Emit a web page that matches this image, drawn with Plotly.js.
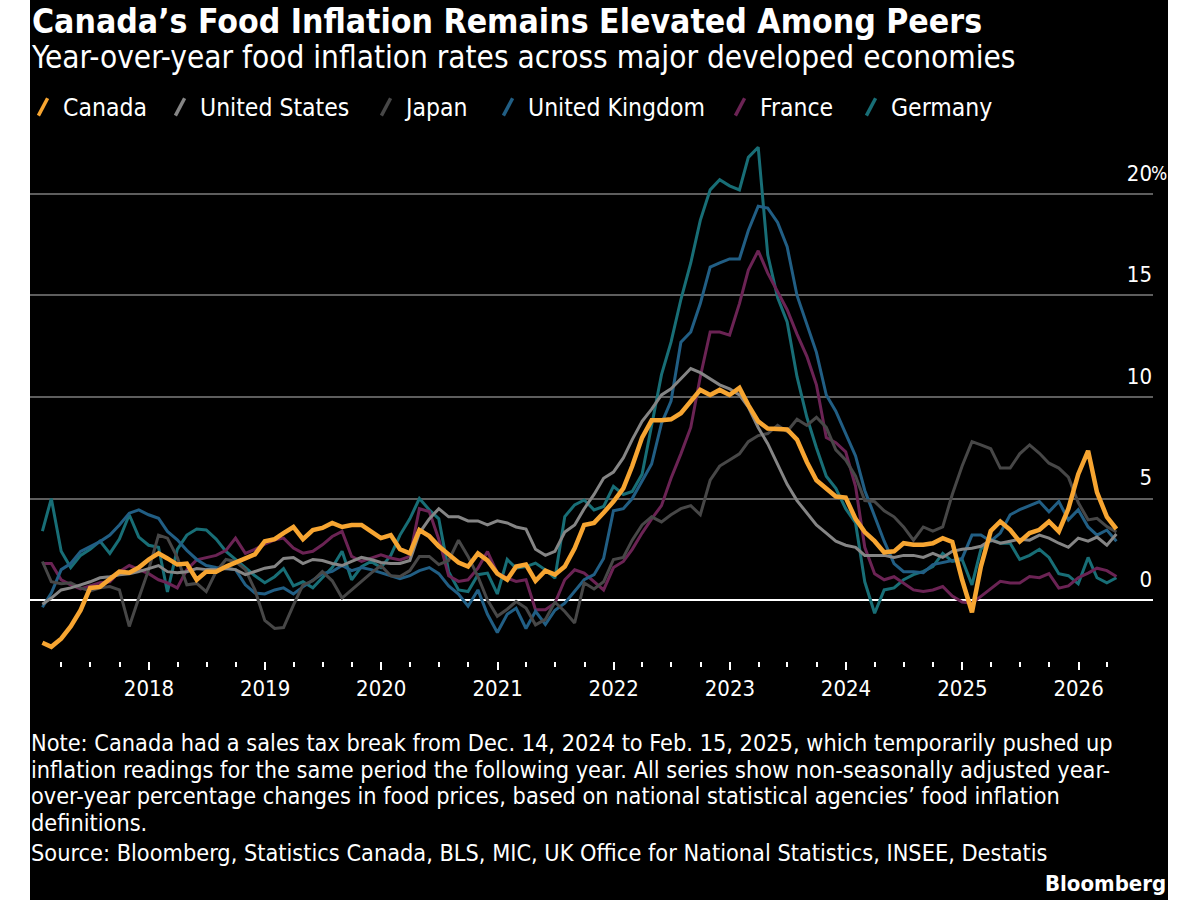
<!DOCTYPE html>
<html>
<head>
<meta charset="utf-8">
<script src="https://cdn.plot.ly/plotly-3.0.1.min.js"></script>
<style>
  html, body { margin:0; padding:0; background:#ffffff; }
  #wrap { position:absolute; left:30px; top:0; width:1138px; height:900px; background:#000; }
  #chart { width:1138px; height:900px; }
</style>
</head>
<body>
<div id="wrap"><div id="chart"></div></div>
<script>
// ---------------- DATA (monthly, Jan 2017 – Apr 2026, y/y %) ----------------
const seriesNames = ['Canada', 'United States', 'Japan', 'United Kingdom', 'France', 'Germany'];

const canada = [
  -2.1, -2.3, -1.9, -1.3, -0.5, 0.6, 0.65, 1.0, 1.4, 1.35, 1.6, 2.0,
  2.3, 2.05, 1.75, 1.8, 1.0, 1.4, 1.4, 1.65, 1.85, 2.0, 2.25, 2.9,
  3.0, 3.3, 3.6, 3.0, 3.45, 3.55, 3.8, 3.6, 3.7, 3.7, 3.4, 3.05,
  3.2, 2.5, 2.3, 3.45, 3.15, 2.65, 2.25, 1.85, 1.65, 2.3, 1.95, 1.3,
  1.0, 1.65, 1.75, 0.95, 1.45, 1.25, 1.65, 2.55, 3.7, 3.8, 4.3, 4.85,
  5.5, 6.6, 8.0, 8.85, 8.85, 8.9, 9.2, 9.8, 10.35, 10.1, 10.35, 10.1,
  10.45, 9.6, 8.8, 8.45, 8.4, 8.4, 7.9, 6.8, 5.9, 5.5, 5.1, 5.05,
  4.0, 3.35, 2.9, 2.35, 2.4, 2.8, 2.72, 2.72, 2.8, 3.05, 2.86, 1.0,
  -0.6, 1.65, 3.4, 3.87, 3.46, 2.88, 3.3, 3.46, 3.87, 3.38, 4.5, 6.2,
  7.35, 5.3, 4.1, 3.5
];
const unitedStates = [
  -0.2, 0.1, 0.5, 0.6, 0.75, 0.9, 1.1, 1.15, 1.25, 1.3, 1.4, 1.55,
  1.7, 1.4, 1.35, 1.4, 1.55, 1.5, 1.5, 1.55, 1.5, 1.25, 1.4, 1.57,
  1.65, 2.05, 2.1, 1.8, 2.0, 1.95, 1.8, 1.7, 1.9, 2.1, 2.0, 1.85,
  1.8, 1.8, 1.95, 3.3, 4.0, 4.5, 4.1, 4.1, 3.9, 3.9, 3.7, 3.9,
  3.8, 3.6, 3.5, 2.5, 2.2, 2.4, 3.35, 3.7, 4.5, 5.2, 6.0, 6.3,
  7.0, 7.9, 8.8, 9.4, 10.1, 10.4, 10.9, 11.4, 11.2, 10.9, 10.6, 10.4,
  10.1, 9.5, 8.5, 7.7, 6.7, 5.7, 4.9, 4.3, 3.7, 3.3, 2.9, 2.7,
  2.6, 2.2, 2.2, 2.2, 2.1, 2.2, 2.2, 2.1, 2.3, 2.1, 2.4, 2.5,
  2.55, 2.65, 2.95, 2.8, 2.9, 3.0, 2.95, 3.2, 3.05, 2.8, 2.6, 3.05,
  2.9, 3.1, 2.7, 3.25
];
const japan = [
  1.9, 0.9, 0.8, 0.85, 0.6, 0.45, 0.6, 0.67, 0.5, -1.3, 0.1, 1.5,
  3.2, 3.05, 2.1, 0.75, 0.82, 0.42, 1.4, 2.0, 1.9, 1.5, 0.5, -1.0,
  -1.4, -1.35, -0.25, 0.75, 0.95, 1.4, 0.95, 0.1, 0.5, 0.92, 1.33, 1.7,
  1.2, 1.16, 1.45, 2.15, 2.15, 1.75, 1.95, 2.95, 2.15, 1.16, 0.0, -0.8,
  -0.45, -0.07, -0.39, -1.22, -0.95, -0.1, -0.56, -1.13, 0.85, 0.55, 0.9, 2.0,
  2.1, 2.95, 3.7, 4.1, 3.85, 4.2, 4.5, 4.65, 4.2, 5.9, 6.6, 6.9,
  7.2, 7.8, 8.1, 8.2, 8.6, 8.3, 8.9, 8.6, 9.0, 8.5, 7.4, 6.9,
  6.1, 4.9, 4.85, 4.4, 4.1, 3.6, 2.95, 3.6, 3.4, 3.6, 5.2, 6.6,
  7.8, 7.64, 7.45, 6.5, 6.5, 7.2, 7.64, 7.23, 6.74, 6.5, 6.05, 4.8,
  3.95, 4.03, 3.62, 3.35
];
const unitedKingdom = [
  -0.35, 0.34, 1.5, 1.8, 2.4, 2.65, 2.88, 3.2, 3.7, 4.28, 4.44, 4.2,
  4.03, 3.38, 2.97, 2.45, 2.0, 1.7, 1.6, 1.55, 1.5, 0.75, 0.35, 0.3,
  0.5, 0.6, 0.3, 0.65, 1.0, 1.3, 1.41, 1.7, 1.45, 1.6, 1.5, 1.35,
  1.2, 1.05, 1.2, 1.45, 1.6, 1.3, 0.7, 0.3, -0.3, 0.5, -0.7, -1.6,
  -0.7, -0.4, -1.4, -0.55, -1.2, -0.5, -0.15, 0.45, 1.0, 1.25, 2.05, 4.4,
  4.5, 5.0, 5.9, 6.7, 8.7, 9.8, 12.7, 13.2, 14.6, 16.4, 16.6, 16.8,
  16.8, 18.2, 19.4, 19.3, 18.6, 17.4, 15.0, 13.6, 12.2, 10.1, 9.3, 8.2,
  7.1, 5.4, 4.1, 2.9, 1.8, 1.4, 1.4, 1.35, 1.75, 1.85, 1.95, 2.05,
  3.2, 3.2, 2.9, 3.3, 4.2, 4.45, 4.65, 4.85, 4.35, 4.85, 3.95, 4.45,
  3.6, 3.2, 3.45, 2.9
];
const france = [
  1.8, 1.8, 1.0, 0.75, 0.55, 0.7, 0.85, 0.9, 1.4, 1.7, 1.5, 1.3,
  1.0, 0.85, 0.6, 1.5, 1.98, 2.07, 2.2, 2.45, 3.05, 2.3, 2.5, 2.75,
  2.97, 3.05, 2.56, 2.31, 2.4, 2.72, 3.13, 3.38, 2.15, 1.9, 2.07, 2.23,
  2.07, 1.98, 2.15, 4.5, 4.36, 3.0, 1.2, 0.92, 1.0, 1.57, 2.39, 1.33,
  1.08, 0.92, 1.0, -0.48, -0.48, -0.15, 1.0, 1.49, 1.33, 0.92, 0.5, 1.6,
  1.9, 2.5, 3.3, 4.0, 4.65, 6.0, 7.2, 8.5, 11.0, 13.2, 13.2, 13.05,
  14.6, 16.25, 17.2, 16.1, 15.2, 14.3, 13.1, 12.0, 10.6, 8.0, 7.75, 7.3,
  5.6, 2.6, 1.3, 1.0, 1.15, 0.84, 0.5, 0.42, 0.5, 0.67, 0.2, -0.1,
  -0.15, 0.18, 0.55, 0.92, 0.84, 0.84, 1.16, 1.1, 1.3, 0.59, 0.7, 1.1,
  1.33, 1.57, 1.45, 1.16
];
const germany = [
  3.4, 5.0, 2.4, 1.6, 2.2, 2.5, 2.9, 2.3, 3.0, 4.2, 3.1, 2.7,
  2.6, 0.4, 2.5, 3.2, 3.5, 3.45, 3.0, 2.4, 2.0, 1.6, 1.2, 0.85,
  1.15, 1.55, 0.7, 0.9, 0.6, 1.1, 1.6, 2.4, 1.0, 1.65, 1.9, 1.6,
  2.2, 3.2, 4.0, 5.0, 4.45, 4.0, 1.4, 0.5, 0.42, 1.25, 1.33, 0.3,
  2.0, 1.57, 1.65, 1.82, 1.49, 1.08, 4.11, 4.69, 4.93, 4.44, 4.61, 5.6,
  5.2, 5.35, 6.2, 8.6, 11.1, 12.7, 14.8, 16.6, 18.7, 20.2, 20.7, 20.4,
  20.2, 21.8, 22.3, 17.0, 14.9, 13.7, 11.0, 9.0, 7.5, 6.1, 5.5, 4.5,
  3.8, 0.9, -0.65, 0.5, 0.6, 1.0, 1.25, 1.41, 1.65, 2.3, 1.9, 2.0,
  0.75, 2.5, 3.0, 2.8, 2.8, 2.0, 2.2, 2.5, 2.1, 1.3, 1.2, 0.8,
  2.1, 1.1, 0.85, 1.1
];

const yearTickVals = ['2018-01-01','2019-01-01','2020-01-01','2021-01-01','2022-01-01','2023-01-01','2024-01-01','2025-01-01','2026-01-01'];
const yearTickText = ['2018','2019','2020','2021','2022','2023','2024','2025','2026'];
const yTickVals = [0, 5, 10, 15, 20];
const yTickText = ['0', '5', '10', '15', '20'];

const titleText = 'Canada’s Food Inflation Remains Elevated Among Peers';
const subtitleText = 'Year-over-year food inflation rates across major developed economies';
const noteLines = [
  'Note: Canada had a sales tax break from Dec. 14, 2024 to Feb. 15, 2025, which temporarily pushed up',
  'inflation readings for the same period the following year. All series show non-seasonally adjusted year-',
  'over-year percentage changes in food prices, based on national statistical agencies’ food inflation',
  'definitions.'
];
const sourceText = 'Source: Bloomberg, Statistics Canada, BLS, MIC, UK Office for National Statistics, INSEE, Destatis';

// ---------------- helpers ----------------
const months = [];
for (let i = 0; i < canada.length; i++) {
  const d = new Date(Date.UTC(2017, i + 1, 0));   // month-end
  months.push(d.toISOString().slice(0, 10));
}
const minorTicks = [];
for (let y = 2017; y <= 2026; y++) {
  for (const mm of ['01', '04', '07', '10']) {
    const s = y + '-' + mm + '-01';
    if (s >= '2017-04-01' && s <= '2026-04-01') minorTicks.push(s);
  }
}

const FONT = '"Liberation Sans Narrow", "DejaVu Sans Condensed", "Roboto Condensed", "Arial Narrow", Roboto, sans-serif';
const colors = {
  'Canada': '#f7a531',
  'United States': '#858585',
  'Japan': '#474747',
  'United Kingdom': '#215e84',
  'France': '#6b2354',
  'Germany': '#186e76'
};
const values = {
  'Canada': canada, 'United States': unitedStates, 'Japan': japan,
  'United Kingdom': unitedKingdom, 'France': france, 'Germany': germany
};

const PT = 133, PB = 661.3, PH = PB - PT, PW = 1123;
function yp(py) { return (PB - py) / PH; }

const traces = [];
['Germany', 'France', 'United Kingdom', 'Japan', 'United States', 'Canada'].forEach(n => {
  traces.push({
    type: 'scatter', mode: 'lines', name: n, x: months, y: values[n],
    line: { color: colors[n], width: n === 'Canada' ? 4.5 : 3, shape: 'linear' },
    showlegend: false, hoverinfo: 'x+y+name'
  });
});

// one legend per entry so each can sit exactly where the reference puts it
const legendTextStart = [63, 200, 406, 528, 760, 891];   // page px where each label starts
const legendIds = ['legend', 'legend2', 'legend3', 'legend4', 'legend5', 'legend6'];
seriesNames.forEach((n, i) => {
  traces.push({
    type: 'scatter', mode: 'markers', name: n, x: [null], y: [null],
    legend: legendIds[i],
    marker: { symbol: 'line-ns', angle: 28, size: 14, color: colors[n], line: { color: colors[n], width: 3.5 } },
    showlegend: true, hoverinfo: 'skip'
  });
});

const layout = {
  width: 1138, height: 900,
  paper_bgcolor: '#000', plot_bgcolor: '#000',
  margin: { l: 0, r: 1138 - PW, t: PT, b: 900 - PB, pad: 0 },
  font: { family: FONT, color: '#ffffff' },
  title: {
    text: titleText, xref: 'container', yref: 'container',
    x: 2 / 1138, xanchor: 'left', y: 1 - 10 / 900, yanchor: 'top',
    font: { family: FONT, size: 33.5, color: '#ffffff', weight: 700 }
  },
  showlegend: true,
  xaxis: {
    type: 'date', range: ['2016-12-23', '2026-08-23'],
    tickmode: 'array', tickvals: yearTickVals, ticktext: yearTickText,
    ticks: 'outside', ticklen: 7.5, tickwidth: 1.5, tickcolor: '#ffffff',
    tickfont: { family: FONT, size: 22, color: '#ffffff' },
    showgrid: false, zeroline: false, showline: false, fixedrange: true,
    minor: { tickmode: 'array', tickvals: minorTicks, ticks: 'outside', ticklen: 5, tickwidth: 1.5, tickcolor: '#ffffff', showgrid: false }
  },
  yaxis: {
    range: [-3, 23], side: 'right',
    tickmode: 'array', tickvals: yTickVals, ticktext: yTickText,
    ticklabelposition: 'inside', ticklabelshift: -21, ticklabelstandoff: -2, ticks: '',
    tickfont: { family: FONT, size: 22, color: '#ffffff' },
    showgrid: true, gridcolor: '#5e5e5e', gridwidth: 1.5,
    zeroline: true, zerolinecolor: '#ffffff', zerolinewidth: 2,
    showline: false, fixedrange: true
  },
  annotations: [
    { text: '%', xref: 'paper', yref: 'y', x: 1, y: 20, xanchor: 'left', yanchor: 'middle', yshift: 21, xshift: -3, showarrow: false,
      borderpad: 0, font: { family: FONT, size: 19, color: '#ffffff' } },
    { text: subtitleText, xref: 'paper', yref: 'paper', x: -1 / PW, y: yp(57), xanchor: 'left', yanchor: 'middle', showarrow: false,
      font: { family: FONT, size: 31.3, color: '#ffffff' } },
    { text: sourceText, xref: 'paper', yref: 'paper', x: -1 / PW, y: yp(853), xanchor: 'left', yanchor: 'middle', align: 'left', showarrow: false,
      font: { family: FONT, size: 23.3, color: '#ffffff' } },
    { text: '<b>Bloomberg</b>', xref: 'paper', yref: 'paper', x: 1138 / PW, y: yp(884), xanchor: 'right', yanchor: 'middle', showarrow: false,
      font: { family: FONT, size: 22, color: '#ffffff' } }
  ]
};
const noteCenters = [743, 769.5, 796, 822.5];
noteLines.forEach((t, i) => {
  layout.annotations.push({
    text: t, xref: 'paper', yref: 'paper', x: -1 / PW, y: yp(noteCenters[i]), xanchor: 'left', yanchor: 'middle', align: 'left', showarrow: false,
    font: { family: FONT, size: 23.3, color: '#ffffff' }
  });
});
legendIds.forEach((id, i) => {
  const px = legendTextStart[i] - 30 - 40;
  layout[id] = {
    orientation: 'h', xref: 'paper', yref: 'container',
    x: Math.max(0, px) / PW, xanchor: 'left', y: 1 - 107 / 900, yanchor: 'middle',
    indentation: Math.min(0, px),
    font: { family: FONT, size: 24.5, color: '#ffffff' },
    bgcolor: 'rgba(0,0,0,0)', itemclick: false, itemdoubleclick: false
  };
});

Plotly.newPlot('chart', traces, layout, { displayModeBar: false, responsive: false });
</script>
</body>
</html>
